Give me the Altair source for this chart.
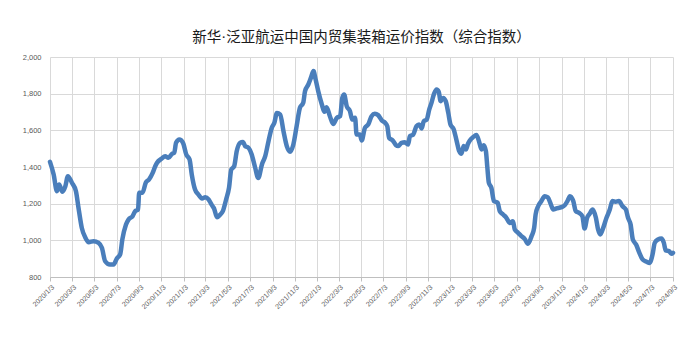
import altair as alt
import pandas as pd

# days after 2020-01-03 and index values
day_offsets = [
    0, 10, 19, 25, 34, 42, 49, 60, 71, 78, 87, 97, 106, 119, 133, 142, 151, 164, 174, 183,
    192, 198, 208, 215, 226, 233, 241, 244, 253, 262, 271, 281, 288, 293, 306, 315, 324, 334, 340, 345,
    354, 364, 373, 382, 388, 397, 406, 416, 425, 434, 443, 449, 457, 466, 473, 482, 490, 496, 504, 511,
    520, 528, 534, 543, 552, 561, 570, 580, 589, 598, 607, 614, 621, 630, 639, 648, 657, 666, 675, 684,
    693, 698, 707, 714, 721, 727, 734, 744, 751, 757, 766, 775, 785, 794, 800, 805, 812, 821, 827, 835,
    839, 848, 853, 862, 871, 880, 889, 898, 908, 917, 923, 928, 938, 947, 953, 962, 971, 980, 985, 994,
    1003, 1010, 1017, 1023, 1031, 1038, 1044, 1051, 1058, 1064, 1069, 1076, 1083, 1090, 1096, 1105, 1113, 1120, 1126, 1132,
    1138, 1144, 1149, 1158, 1167, 1174, 1181, 1187, 1193, 1197, 1201, 1208, 1215, 1225, 1231, 1240, 1249, 1258, 1267, 1272,
    1281, 1290, 1299, 1308, 1318, 1325, 1329, 1336, 1345, 1354, 1362, 1371, 1377, 1386, 1400, 1409, 1416, 1423, 1432, 1439,
    1448, 1457, 1463, 1470, 1477, 1485, 1494, 1500, 1506, 1514, 1523, 1532, 1539, 1548, 1557, 1567, 1576, 1582, 1589, 1595,
    1604, 1613, 1622, 1633, 1641, 1649, 1655, 1664, 1673, 1680, 1685, 1694, 1701, 1705,
]
index_values = [
    1428, 1359, 1268, 1305, 1265, 1295, 1350, 1314, 1268, 1177, 1068, 1014, 990, 995, 986, 959, 886, 868, 868, 901,
    923, 1005, 1086, 1114, 1132, 1159, 1168, 1259, 1259, 1314, 1332, 1368, 1404, 1423, 1446, 1459, 1450, 1472, 1477, 1532,
    1550, 1532, 1468, 1441, 1359, 1277, 1250, 1228, 1235, 1223, 1192, 1174, 1126, 1141, 1159, 1223, 1287, 1386, 1404, 1486,
    1532, 1537, 1514, 1505, 1468, 1400, 1340, 1414, 1459, 1541, 1614, 1641, 1695, 1686, 1595, 1514, 1483, 1523, 1623, 1723,
    1750, 1814, 1850, 1886, 1923, 1877, 1814, 1741, 1701, 1726, 1677, 1635, 1668, 1677, 1777, 1795, 1732, 1704, 1659, 1668,
    1577, 1577, 1545, 1614, 1632, 1677, 1690, 1683, 1654, 1641, 1623, 1559, 1545, 1519, 1514, 1532, 1535, 1523, 1568, 1577,
    1623, 1632, 1610, 1650, 1659, 1714, 1750, 1799, 1823, 1810, 1759, 1777, 1759, 1695, 1632, 1605, 1541, 1486, 1472, 1514,
    1495, 1527, 1545, 1563, 1574, 1541, 1495, 1519, 1486, 1395, 1314, 1286, 1214, 1205, 1159, 1141, 1123, 1095, 1104, 1059,
    1041, 1023, 1008, 981, 1023, 1068, 1141, 1186, 1214, 1241, 1235, 1195, 1168, 1174, 1181, 1192, 1214, 1241, 1214, 1159,
    1150, 1132, 1064, 1123, 1145, 1168, 1123, 1059, 1032, 1068, 1123, 1168, 1214, 1210, 1214, 1186, 1168, 1123, 1086, 1005,
    977, 932, 895, 883, 877, 923, 986, 1005, 1010, 986, 945, 941, 927, 932,
]
tick_labels = [
    "2020/1/3", "2020/3/3", "2020/5/3", "2020/7/3", "2020/9/3", "2020/11/3",
    "2021/1/3", "2021/3/3", "2021/5/3", "2021/7/3", "2021/9/3", "2021/11/3",
    "2022/1/3", "2022/3/3", "2022/5/3", "2022/7/3", "2022/9/3", "2022/11/3",
    "2023/1/3", "2023/3/3", "2023/5/3", "2023/7/3", "2023/9/3", "2023/11/3",
    "2024/1/3", "2024/3/3", "2024/5/3", "2024/7/3", "2024/9/3",
]
y_ticks = [800, 1000, 1200, 1400, 1600, 1800, 2000]
title_text = "新华·泛亚航运中国内贸集装箱运价指数（综合指数）"

base = pd.Timestamp("2020-01-03")
df = pd.DataFrame({
    "date": [(base + pd.Timedelta(days=d)).strftime("%Y-%m-%dT00:00:00") for d in day_offsets],
    "value": index_values,
})


def to_dt(s):
    y, m, d = (int(p) for p in s.split("/"))
    return alt.DateTime(year=y, month=m, date=d)


x_ticks = [to_dt(s) for s in tick_labels]

chart = alt.Chart(df).mark_line(
    color="#4a7ebb", strokeWidth=4.5, interpolate="monotone",
    strokeCap="round", strokeJoin="round",
).encode(
    x=alt.X("date:T",
            scale=alt.Scale(domain=[x_ticks[0], x_ticks[-1]], nice=False),
            axis=alt.Axis(values=x_ticks, format="%Y/%-m/%-d", labelAngle=-45, title=None,
                          grid=True, gridColor="#d9d9d9", tickColor="#bfbfbf", tickSize=4,
                          domainColor="#bfbfbf", labelFontSize=7, labelColor="#595959",
                          labelFont="Liberation Sans", labelOverlap=False, labelPadding=2)),
    y=alt.Y("value:Q",
            scale=alt.Scale(domain=[800, 2000], nice=False, zero=False),
            axis=alt.Axis(values=y_ticks, format=",.0f", title=None, gridColor="#d9d9d9",
                          domain=False, ticks=False, labelFontSize=7.5, labelColor="#595959",
                          labelFont="Liberation Sans", labelPadding=9)),
).properties(
    width=623, height=220,
    title=alt.Title(title_text, font="Liberation Serif, Noto Sans CJK SC", fontSize=14.5,
                    fontWeight="normal", color="#1a1a1a", offset=8, anchor="middle"),
    autosize="none",
    padding={"left": 50, "top": 57, "right": 27, "bottom": 73},
).configure_view(stroke=None)

chart.save("out.html", embed_options={"renderer": "svg", "actions": False})
